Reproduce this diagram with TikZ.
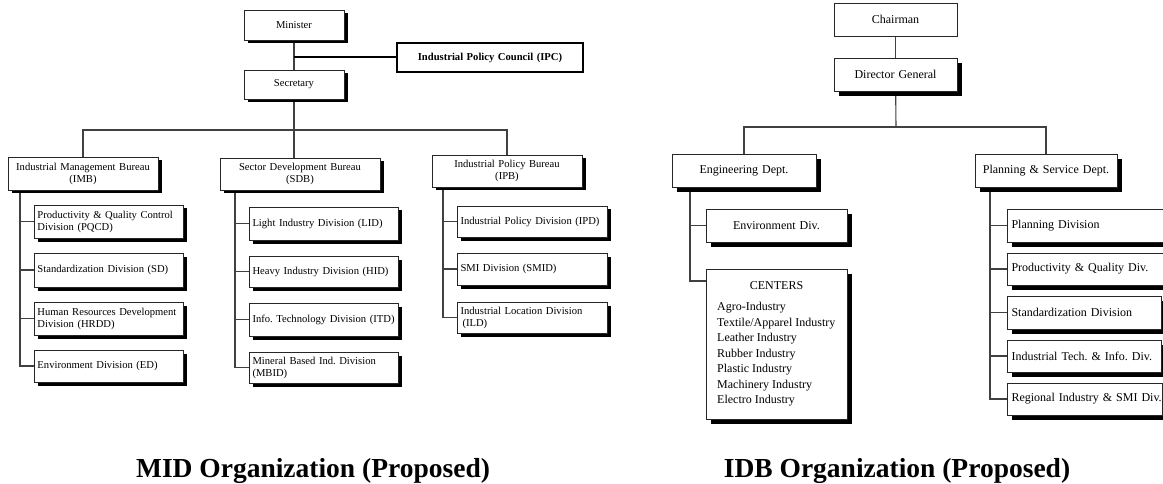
\documentclass[tikz,border=0pt]{standalone}
\usepackage{fontspec}
\setmainfont{Liberation Serif}
\usetikzlibrary{shadows}
\pgfdeclarelayer{bg}
\pgfsetlayers{bg,main}
\frenchspacing

% box given by its corners (x1,y1)-(x2,y2); text is padded by \orgpad on each side
\def\orgpad{3.5}
\newcommand{\orgnode}[7][]{%
  \pgfmathsetmacro\orgW{#5-#3}%
  \pgfmathsetmacro\orgH{#6-#4}%
  \pgfmathsetmacro\orgT{#5-#3-2*\orgpad}%
  \node[box,minimum width=\orgW pt,minimum height=\orgH pt,text width=\orgT pt,#1]
    (#2) at ({(#3+#5)/2},{(#4+#6)/2}) {#7};}

\tikzset{
  box/.style={draw=black!85, line width=0.8pt, fill=white, rectangle,
    inner sep=0pt, outer sep=0pt, align=left},
  lshadow/.style={drop shadow={shadow xshift=4pt, shadow yshift=-3.5pt,
    fill=black, opacity=1}},
  rshadow/.style={drop shadow={shadow xshift=5pt, shadow yshift=-5pt,
    fill=black, opacity=1}},
  lfont/.style={font=\fontsize{10.6}{12}\selectfont},
  rfont/.style={font=\fontsize{12}{15}\selectfont},
  link/.style={draw=black!75, line width=1.1pt},
  caption/.style={font=\fontsize{27.5}{33}\selectfont\bfseries, anchor=base,
    inner sep=0pt},
}

\begin{document}
\begin{tikzpicture}[x=1pt,y=-1pt]
\useasboundingbox (0,0) rectangle (1163,484);
\clip (0,0) rectangle (1163,484);
\begin{pgfonlayer}{bg}
  \fill[white] (0,0) rectangle (1163,484);
\end{pgfonlayer}

% ---------------- MID organization ----------------
\orgnode[lshadow,lfont,align=center]{minister}{244}{10}{344}{40}{Minister}
\orgnode[lshadow,lfont,align=center]{secretary}{244}{70}{344}{99}{Secretary}
\orgnode[draw=black,line width=2pt,align=center,
  font=\fontsize{10.6}{12}\selectfont\bfseries]{ipc}{397}{43}{583}{72}{Industrial Policy Council (IPC)}

\orgnode[lshadow,lfont,align=center]{imb}{8}{157}{158}{190}{Industrial Management Bureau\\(IMB)}
\orgnode[lshadow,lfont,align=center]{sdb}{220}{158}{380}{190}{Sector Development Bureau\\(SDB)}
\orgnode[lshadow,lfont,align=center]{ipb}{432}{155}{582}{187}{Industrial Policy Bureau\\(IPB)}

\orgnode[lshadow,lfont]{pqcd}{34}{205}{183}{238}{\makebox[\linewidth][s]{Productivity \& Quality Control}\\Division (PQCD)}
\orgnode[lshadow,lfont]{sd}{34}{253}{183}{287}{\mbox{Standardization Division (SD)}}
\orgnode[lshadow,lfont]{hrdd}{34}{302}{183}{335}{\mbox{Human Resources Development}\\Division (HRDD)}
\orgnode[lshadow,lfont]{ed}{34}{350}{183}{382}{\mbox{Environment Division (ED)}}

\orgnode[lshadow,lfont]{lid}{249}{207}{398}{240}{\mbox{Light Industry Division (LID)}}
\orgnode[lshadow,lfont]{hid}{249}{256}{398}{287}{\mbox{Heavy Industry Division (HID)}}
\orgnode[lshadow,lfont]{itd}{249}{303}{398}{336}{\mbox{Info. Technology Division (ITD)}}
\orgnode[lshadow,lfont]{mbid}{249}{352}{398}{383}{\mbox{Mineral Based Ind. Division}\\(MBID)}

\orgnode[lshadow,lfont]{ipd}{457}{206}{607}{237}{\mbox{Industrial Policy Division (IPD)}}
\orgnode[lshadow,lfont]{smid}{457}{253}{607}{285}{\mbox{SMI Division (SMID)}}
\orgnode[lshadow,lfont]{ild}{457}{302}{607}{333}{\mbox{Industrial Location Division}\\\hspace*{2pt}(ILD)}

\begin{pgfonlayer}{bg}
  \draw[link] (minister) -- (secretary);
  \coordinate (ipcjoin) at (minister.south |- ipc.west);
  \draw[line width=2pt] (ipcjoin) -- (ipc.west);
  \coordinate (lbar) at (294,130);
  \draw[link] (secretary) -- (lbar);
  \draw[link] (imb.north) |- (lbar) -| (ipb.north);
  \draw[link] (lbar) -- (lbar |- sdb.north);
  \coordinate (imbspine) at (20,190);
  \draw[link] (imbspine) |- (ed.west);
  \foreach \d in {pqcd,sd,hrdd} \draw[link] (imbspine |- \d.west) -- (\d.west);
  \coordinate (sdbspine) at (235,190);
  \draw[link] (sdbspine) |- (mbid.west);
  \foreach \d in {lid,hid,itd} \draw[link] (sdbspine |- \d.west) -- (\d.west);
  \coordinate (ipbspine) at (443,187);
  \draw[link] (ipbspine) |- (ild.west);
  \foreach \d in {ipd,smid} \draw[link] (ipbspine |- \d.west) -- (\d.west);
\end{pgfonlayer}

% ---------------- IDB organization ----------------
\orgnode[rfont,align=center]{chairman}{834}{3}{957}{36}{Chairman}
\orgnode[rshadow,rfont,align=center]{dg}{834}{58}{957}{91}{Director General}
\orgnode[rshadow,rfont,align=center]{eng}{672}{154}{816}{187}{Engineering Dept.}
\orgnode[rshadow,rfont,align=center]{ps}{975}{154}{1117}{187}{Planning \& Service Dept.}

\orgnode[rshadow,rfont,align=center]{envdiv}{706}{209}{847}{242}{Environment Div.}
\orgnode[rshadow,rfont]{centers}{706}{269}{847}{419}{}
\node[rfont,inner sep=0pt] (centerstitle) at (776.5,286) {CENTERS};
\node[font=\fontsize{12}{15.5}\selectfont,inner sep=0pt,align=left,anchor=north west]
  (centerslist) at (717,302) {Agro-Industry\\Textile/Apparel Industry\\Leather Industry\\Rubber Industry\\Plastic Industry\\Machinery Industry\\Electro Industry};

\def\orgpad{4.5}
\orgnode[rshadow,rfont]{planning}{1007}{209}{1180}{242}{Planning Division}
\orgnode[rshadow,rfont]{prodq}{1007}{253}{1180}{285}{Productivity \& Quality Div.}
\orgnode[rshadow,rfont]{stdz}{1007}{296}{1161}{329}{\mbox{Standardization Division}}
\orgnode[rshadow,rfont]{indtech}{1007}{340}{1161}{372}{\mbox{Industrial Tech. \& Info. Div.}}
\orgnode[rshadow,rfont]{regional}{1007}{383}{1162}{415}{\mbox{Regional Industry \& SMI Div.}}

\begin{pgfonlayer}{bg}
  \draw[link] (chairman) -- (dg);
  \coordinate (rbar) at (896,127);
  \draw[link] (dg) -- (rbar);
  \draw[link] (eng.north) |- (rbar) -| (ps.north);
  \coordinate (engspine) at (690,187);
  \coordinate (centersjoin) at (706,281);
  \draw[link] (engspine) |- (centersjoin);
  \draw[link] (engspine |- envdiv.west) -- (envdiv.west);
  \coordinate (psspine) at (990,187);
  \draw[link] (psspine) |- (regional.west);
  \foreach \d in {planning,prodq,stdz,indtech} \draw[link] (psspine |- \d.west) -- (\d.west);
\end{pgfonlayer}

% ---------------- captions ----------------
\node[caption] (midcap) at (313,477) {MID Organization (Proposed)};
\node[caption] (idbcap) at (897,477) {IDB Organization (Proposed)};
\end{tikzpicture}
\end{document}
